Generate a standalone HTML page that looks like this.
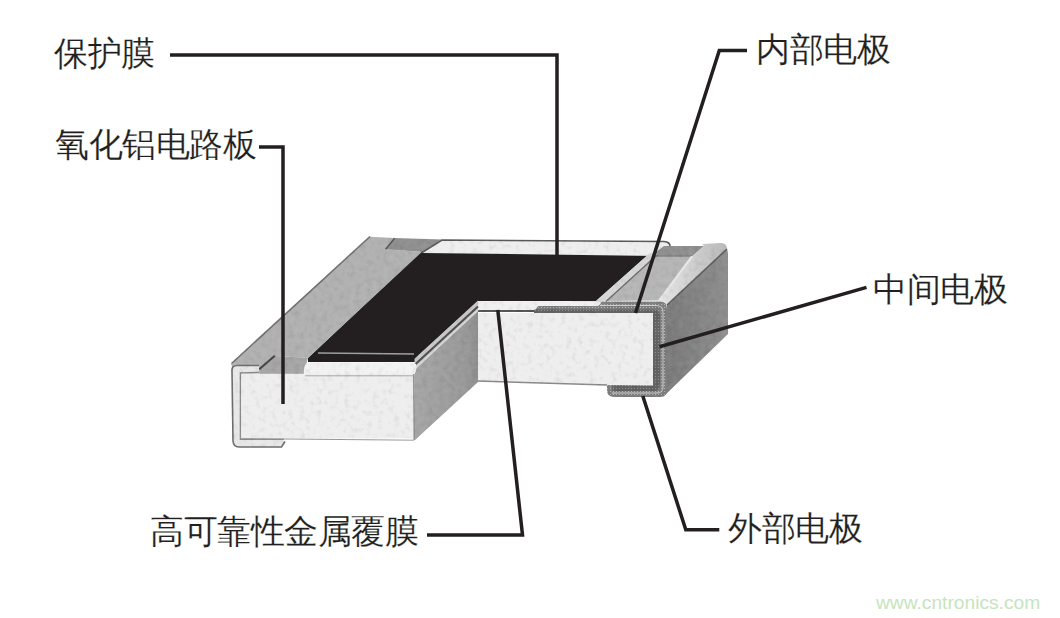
<!DOCTYPE html>
<html><head><meta charset="utf-8">
<style>
html,body{margin:0;padding:0;background:#fff;}
body{width:1060px;height:618px;position:relative;overflow:hidden;font-family:"Liberation Sans",sans-serif;}
.t{position:absolute;font-size:33.6px;-webkit-text-stroke:0.15px #fff;letter-spacing:-0.5px;line-height:34px;color:#231f20;white-space:nowrap;}
.w{position:absolute;left:876px;top:593px;font-size:19.2px;line-height:19px;color:#c6e4bd;white-space:nowrap;}
svg{position:absolute;left:0;top:0;}
</style></head><body>
<svg width="1060" height="618" viewBox="0 0 1060 618">
<g id="film"><polygon points="308,358 421.8,251 650,253 596,301 478,301 419,355 416,362 308,362" fill="#231f20"/></g>
<g id="chip" filter="url(#tex)">
<defs>
<filter id="tex" x="200" y="220" width="540" height="240" filterUnits="userSpaceOnUse" color-interpolation-filters="sRGB">
<feTurbulence type="fractalNoise" baseFrequency="0.18" numOctaves="2" seed="3" result="n"/>
<feColorMatrix in="n" type="matrix" values="0 0 0 0 0  0 0 0 0 0  0 0 0 0 0  0.16 0 0 0 -0.08" result="dk"/>
<feColorMatrix in="n" type="matrix" values="0 0 0 0 1  0 0 0 0 1  0 0 0 0 1  -0.16 0 0 0 0.08" result="lt"/>
<feComposite in="dk" in2="SourceGraphic" operator="in" result="dkm"/>
<feComposite in="lt" in2="SourceGraphic" operator="in" result="ltm"/>
<feMerge><feMergeNode in="SourceGraphic"/><feMergeNode in="dkm"/><feMergeNode in="ltm"/></feMerge>
</filter>
<linearGradient id="gSide" x1="0" y1="0" x2="1" y2="0">
<stop offset="0" stop-color="#a6a6a6"/><stop offset="0.8" stop-color="#999"/><stop offset="1" stop-color="#8e8e8e"/>
</linearGradient>
<linearGradient id="gTermSide" x1="0" y1="0" x2="1" y2="0">
<stop offset="0" stop-color="#7a7a7a"/><stop offset="1" stop-color="#8e8e8e"/>
</linearGradient>
<linearGradient id="gLip" x1="0" y1="0" x2="1" y2="0">
<stop offset="0" stop-color="#e6e6e6"/><stop offset="1" stop-color="#b8b8b8"/>
</linearGradient>
<pattern id="hatch" width="3" height="3" patternUnits="userSpaceOnUse">
<rect width="3" height="3" fill="#7e7e7e"/><rect x="1" y="1" width="1" height="1" fill="#b4b4b4"/>
</pattern>
<pattern id="hatch2" width="3" height="3" patternUnits="userSpaceOnUse">
<rect width="3" height="3" fill="#626262"/><rect x="1" y="1" width="1" height="1" fill="#8e8e8e"/>
</pattern>
</defs>
<!-- left electrode top face -->
<polygon points="231,364 264,334 370,236.8 394.6,238 385.6,249.3 421.8,252 308,357.8 274.8,356 259.2,369.2 233,369" fill="#b1b1b1"/>
<!-- back notch substrate -->
<polygon points="394.6,238 442,239.5 423,252 385.6,249.3" fill="#909090"/>
<line x1="394.6" y1="238.2" x2="385.6" y2="249.3" stroke="#555" stroke-width="1.5"/>
<!-- front notch substrate -->
<polygon points="274.8,356 308,357.8 304,374 259.2,374 259.2,369.2" fill="#a6a6a6"/>
<line x1="259.2" y1="369.2" x2="274.8" y2="355.8" stroke="#444" stroke-width="2"/>
<line x1="231.5" y1="363.5" x2="370" y2="236.5" stroke="#6f6f6f" stroke-width="1.5"/>
<!-- top back strip -->
<path d="M442,240 L664,241.5 Q670,242 670,246 L657,256 L422,253 Z" fill="#eeeeee"/>
<path d="M422,252.5 L442,240 L664,241.5 Q670,242 670,246" fill="none" stroke="#5a5a5a" stroke-width="1.6"/>
<!-- terminal trough -->
<polygon points="664,246 704,246 692,256.4 650,256.4" fill="#8f8f8f"/>
<line x1="650" y1="256.4" x2="692" y2="256.4" stroke="#6a6a6a" stroke-width="1.2"/>
<!-- terminal top face -->
<polygon points="650,256.4 692,256.4 659,300.5 604,301" fill="#b6b6b6"/>
<!-- diagonal light strip between film and terminal -->
<polygon points="650,253 657,254 606,301 596,301" fill="#d6d6d6"/>
<line x1="657" y1="255" x2="606" y2="301.5" stroke="#6e6e6e" stroke-width="1.4"/>
<!-- right terminal side face -->
<path d="M667,304 L724,249 Q728,248 728,254 L728,334 L663,397 L667,390 Z" fill="url(#gTermSide)"/>
<!-- rim band -->
<path d="M692,256.4 L704,246 L702,244 L721,243 Q727,243 727,249 L667,305 L659,300.5 Z" fill="url(#gLip)"/>
<line x1="692" y1="256.4" x2="659" y2="300.5" stroke="#e8e8e8" stroke-width="2"/>
<path d="M727,249 L667,305" stroke="#5e5e5e" stroke-width="1.6"/>
<!-- right front electrode outer layer -->
<path d="M534,312 L538,305.8 L570,305.8 L572,301.5 L660,301.5 Q667,301.5 667,308.5 L667,390 Q667,397 660,397 L614,397 Q607,397 607,390 L607,384.5 L534,382 Z" fill="url(#hatch)"/>
<path d="M600,305.5 L656,305.5 Q663,305.5 663,312 L663,387 Q663,393 657,393 L612,393" fill="none" stroke="#d0d0d0" stroke-width="1"/>
<!-- inner layer -->
<path d="M534,309.5 L653,309.5 Q660,309.5 660,316 L660,385 Q660,391 654,391 L612,391 L612,384.5 L534,382 Z" fill="url(#hatch2)"/>
<!-- strip above J -->
<path d="M478,301.2 L598,301.2 Q604,302 598,306 L570,306 L538,306 L534,310 L478,310 Z" fill="#f0f0f0"/>
<line x1="478" y1="311" x2="534" y2="311" stroke="#555" stroke-width="2"/>
<!-- right front white face -->
<polygon points="477,313 653,313 653,385.5 606,385 477,381" fill="#eeeeee"/>
<line x1="477" y1="381" x2="607" y2="385" stroke="#8a8a8a" stroke-width="1.4"/>
<!-- side face of left section -->
<path d="M478,311 L478,382 L414.5,440.5 L414.5,373 Q415,369 418,366.5 Z" fill="url(#gSide)"/>
<!-- diagonal highlight strip -->
<polygon points="478,300.5 478,311 414.5,369.5 414.5,358.7" fill="#c8c8c8"/>
<line x1="478" y1="306.5" x2="414.5" y2="365" stroke="#4e4e4e" stroke-width="2"/>
<line x1="478" y1="310" x2="416" y2="367.5" stroke="#d8d8d8" stroke-width="1.3"/>
<!-- left front protective strip -->
<path d="M308,362.5 L414,362.5 Q419,364 414,376 L304,376 Q303,364 308,362.5 Z" fill="#f2f2f2"/>
<line x1="318" y1="353" x2="414" y2="354" stroke="#a0a0a0" stroke-width="1.5"/>
<!-- left outer electrode wrap -->
<path d="M259,365.5 L237,365.5 Q231.5,365.5 232,371 L233,441 Q233.5,447 239,447 L281.5,447 L285,441.5 L283,438.8 L241,438.8 L241,373.6 L259,373.6 Z" fill="#e8e8e8"/>
<path d="M259,365.5 L237,365.5 Q231.5,365.5 232,371 L233,441 Q233.5,447 239,447 L281.5,447 L285,441.5" fill="none" stroke="#6e6e6e" stroke-width="1.6"/>
<path d="M259,372.5 L240.5,373 L240.5,439.3 L284,439.3" fill="none" stroke="#8a8a8a" stroke-width="1.6"/>
<!-- left front white face -->
<rect x="241.3" y="373.8" width="172.5" height="64.6" fill="#eeeeee"/>
<line x1="413.8" y1="374" x2="414.2" y2="440" stroke="#7a7a7a" stroke-width="1.2"/>
<line x1="305" y1="375.8" x2="414" y2="375.8" stroke="#a8a8a8" stroke-width="1"/>
<line x1="241.3" y1="438.6" x2="414" y2="440.2" stroke="#999" stroke-width="1"/>
</g>
<g fill="none" stroke="#231f20" stroke-width="3.5" stroke-linejoin="miter">
<polyline points="170,55 557,55 557,256"/>
<polyline points="259,147 283,147 283,404"/>
<polyline points="747,50.4 719.3,50.4 635.5,313"/>
<polyline points="866.5,287.4 659.5,346.7"/>
<polyline points="427,535 522.5,535 497.8,310"/>
<polyline points="719.3,529.8 685.8,529.8 642.8,396"/>
</g>
</svg>
<div class="t" style="left:54px;top:37px">保护膜</div>
<div class="t" style="left:55px;top:128px">氧化铝电路板</div>
<div class="t" style="left:756px;top:33px">内部电极</div>
<div class="t" style="left:873px;top:273px">中间电极</div>
<div class="t" style="left:150px;top:515px">高可靠性金属覆膜</div>
<div class="t" style="left:728px;top:512px">外部电极</div>
<div class="w">www.cntronics.com</div>
</body></html>
